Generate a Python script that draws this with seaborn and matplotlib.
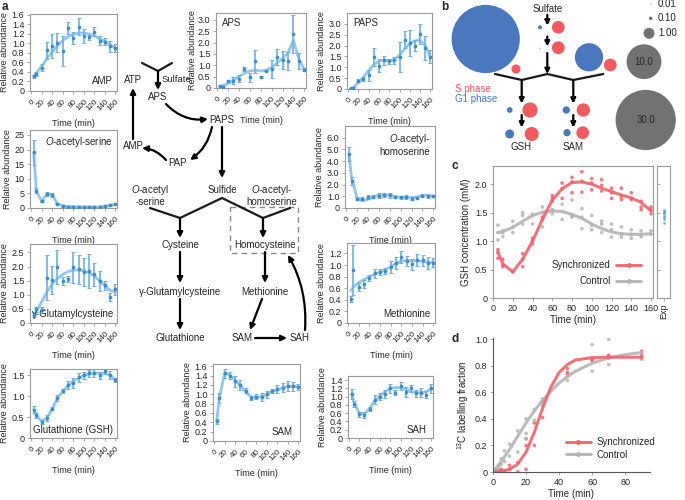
import numpy as np
import pandas as pd
import matplotlib
matplotlib.use("Agg")
import matplotlib.pyplot as plt
import seaborn as sns
from matplotlib.lines import Line2D
from matplotlib.patches import Rectangle

# ---------------- DATA ----------------
time_a = [5, 10, 20, 30, 40, 50, 60, 70, 80, 90, 100, 110, 120, 130, 140, 150, 160]

amp_mean = [0.31, 0.35, 0.49, 0.86, 0.94, 1.02, 0.84, 1.33, 1.11, 1.35, 1.16, 1.13, 1.25, 1.06, 1.04, 0.94, 0.90]
amp_err = [0.03, 0.04, 0.07, 0.18, 0.25, 0.20, 0.32, 0.13, 0.13, 0.18, 0.15, 0.05, 0.10, 0.10, 0.07, 0.12, 0.08]
amp_fit = [0.30, 0.38, 0.52, 0.68, 0.82, 0.95, 1.06, 1.14, 1.19, 1.22, 1.22, 1.20, 1.16, 1.10, 1.04, 0.97, 0.90]

aps_mean = [0.10, 0.05, 0.30, 0.32, 0.40, 0.84, 0.47, 1.18, 0.49, 0.76, 0.84, 1.35, 1.24, 1.20, 2.38, 1.20, 0.81]
aps_err = [0.05, 0.03, 0.05, 0.15, 0.15, 0.08, 0.20, 0.50, 0.05, 0.03, 0.40, 0.35, 0.40, 0.40, 0.85, 0.35, 0.05]
aps_fit = [0.05, 0.10, 0.20, 0.35, 0.50, 0.65, 0.75, 0.78, 0.75, 0.78, 0.90, 1.10, 1.30, 1.55, 2.10, 1.25, 0.80]

paps_mean = [0.03, 0.05, 0.38, 0.45, 0.64, 1.48, 1.08, 1.32, 1.28, 1.32, 1.47, 2.27, 2.13, 2.00, 2.54, 1.90, 1.48]
paps_err = [0.02, 0.03, 0.07, 0.10, 0.25, 0.42, 0.30, 0.20, 0.12, 0.15, 0.70, 0.40, 0.60, 0.25, 0.45, 0.55, 0.30]
paps_fit = [0.00, 0.05, 0.30, 0.55, 0.85, 1.12, 1.28, 1.32, 1.30, 1.35, 1.55, 1.85, 2.10, 2.22, 2.25, 2.00, 1.45]

oas_mean = [19.0, 5.9, 2.3, 4.8, 4.5, 1.5, 0.7, 0.5, 0.5, 0.4, 0.4, 0.4, 0.4, 0.4, 0.6, 0.9, 1.3]
oas_err = [4.2, 0.8, 0.4, 0.6, 0.8, 0.3, 0.2, 0.1, 0.1, 0.1, 0.1, 0.1, 0.1, 0.1, 0.1, 0.1, 0.2]
oas_fit = [19.0, 5.9, 2.3, 4.8, 4.5, 1.5, 0.7, 0.5, 0.5, 0.4, 0.4, 0.4, 0.4, 0.4, 0.6, 0.9, 1.3]

oah_mean = [4.6, 2.3, 0.80, 0.80, 0.93, 0.98, 1.05, 1.10, 1.07, 0.93, 0.90, 0.93, 0.80, 0.88, 1.05, 1.00, 1.00]
oah_err = [0.60, 0.35, 0.10, 0.15, 0.20, 0.10, 0.20, 0.15, 0.20, 0.10, 0.10, 0.15, 0.10, 0.10, 0.15, 0.12, 0.08]
oah_fit = [4.6, 2.6, 0.85, 0.60, 0.75, 0.95, 1.10, 1.12, 1.08, 0.98, 0.90, 0.90, 0.88, 0.95, 1.05, 1.10, 1.00]

ggc_mean = [0.30, 0.48, 0.45, 1.60, 1.52, 1.98, 1.48, 1.55, 1.98, 1.90, 1.80, 1.85, 1.72, 1.48, 1.33, 0.93, 1.20]
ggc_err = [0.10, 0.10, 0.10, 0.80, 0.50, 0.60, 0.15, 0.10, 0.55, 0.50, 0.50, 0.60, 0.40, 0.35, 0.15, 0.15, 0.20]
ggc_fit = [0.25, 0.40, 0.75, 1.10, 1.38, 1.58, 1.72, 1.82, 1.87, 1.88, 1.85, 1.78, 1.66, 1.50, 1.32, 1.15, 1.12]

met_mean = [0.41, 0.91, 0.62, 0.68, 0.77, 0.86, 0.88, 0.90, 0.97, 1.04, 1.14, 1.07, 1.01, 1.09, 1.08, 1.04, 1.04]
met_err = [0.05, 0.43, 0.07, 0.07, 0.05, 0.08, 0.06, 0.05, 0.10, 0.10, 0.10, 0.08, 0.10, 0.10, 0.10, 0.10, 0.08]
met_fit = [0.56, 0.62, 0.70, 0.75, 0.80, 0.84, 0.88, 0.92, 0.97, 1.03, 1.07, 1.08, 1.08, 1.07, 1.06, 1.05, 1.04]

gsh_mean = [0.68, 0.54, 0.38, 0.48, 0.70, 0.96, 1.12, 1.26, 1.32, 1.45, 1.50, 1.55, 1.55, 1.50, 1.60, 1.50, 1.38]
gsh_err = [0.08, 0.05, 0.04, 0.07, 0.04, 0.08, 0.05, 0.10, 0.12, 0.10, 0.08, 0.08, 0.10, 0.08, 0.08, 0.10, 0.05]
gsh_fit = [0.68, 0.55, 0.40, 0.48, 0.70, 0.95, 1.12, 1.25, 1.35, 1.43, 1.50, 1.53, 1.55, 1.55, 1.55, 1.50, 1.38]

sam_mean = [0.42, 0.92, 1.45, 1.40, 1.28, 1.20, 1.08, 0.92, 0.95, 0.94, 1.00, 1.07, 1.11, 1.14, 1.18, 1.17, 1.16]
sam_err = [0.05, 0.10, 0.10, 0.08, 0.12, 0.10, 0.06, 0.04, 0.05, 0.08, 0.08, 0.05, 0.08, 0.10, 0.10, 0.09, 0.06]
sam_fit = [0.42, 0.92, 1.45, 1.42, 1.30, 1.18, 1.05, 0.95, 0.93, 0.95, 1.00, 1.06, 1.10, 1.14, 1.17, 1.17, 1.16]

sah_mean = [1.07, 0.82, 0.57, 0.55, 0.70, 0.93, 1.00, 1.07, 1.20, 1.10, 1.25, 1.12, 1.20, 1.08, 1.10, 1.05, 1.20]
sah_err = [0.12, 0.08, 0.05, 0.07, 0.05, 0.10, 0.08, 0.10, 0.10, 0.05, 0.10, 0.12, 0.08, 0.08, 0.10, 0.08, 0.10]
sah_fit = [1.07, 0.85, 0.60, 0.58, 0.72, 0.90, 1.02, 1.12, 1.20, 1.22, 1.22, 1.18, 1.12, 1.10, 1.10, 1.12, 1.20]

# panel b
bubble_phase = ["G1", "S", "G1", "S", "G1", "S", "G1", "S", "G1", "S", "G1", "S", "G1", "S", "G1", "S"]
bubble_value = [38.5, 0.68, 0.13, 1.34, 0.01, 1.34, 6.6, 1.34, 0.27, 1.9, 0.67, 1.63, 0.44, 1.48, 0.44, 1.34]
size_legend_values = [0.01, 0.10, 1.00, 10.0, 30.0]
size_legend_labels = ["0.01", "0.10", "1.00", "10.0", "30.0"]

# panel c
c_time = [5, 10, 20, 30, 40, 50, 60, 70, 80, 90, 100, 110, 120, 130, 140, 150, 160]
c_sync_reps = [[0.85, 0.80, 0.70], [0.68, 0.57, 0.55], [0.47, 0.46], [0.78, 0.68, 0.55],
               [1.00, 0.95, 1.05], [1.42, 1.38], [1.80, 1.75, 1.70], [2.02, 1.92, 1.75],
               [2.12, 2.04, 1.85], [2.22, 2.05, 1.86], [2.10, 2.02, 1.90], [2.08, 1.98, 1.88],
               [1.93, 1.85, 1.75], [1.93, 1.78, 1.73], [1.85, 1.75, 1.73], [1.70, 1.60, 1.55],
               [1.60, 1.55, 1.48]]
c_ctrl_reps = [[1.28, 1.15, 1.02], [1.18, 1.15, 1.08], [1.35, 1.25, 1.15], [1.50, 1.45, 1.30],
               [1.47, 1.45, 1.30], [1.60, 1.50, 1.25], [1.55, 1.55, 1.48], [1.65, 1.52, 1.38],
               [1.72, 1.45, 1.42], [1.57, 1.42, 1.22], [1.45, 1.28, 1.20], [1.35, 1.30, 1.15],
               [1.30, 1.20, 1.07], [1.25, 1.12, 1.07], [1.20, 1.12, 1.05], [1.18, 1.10, 1.08],
               [1.18, 1.12]]
c_sync_fit = [0.80, 0.60, 0.46, 0.68, 1.00, 1.38, 1.72, 1.92, 2.03, 2.04, 2.00, 1.93, 1.87, 1.81, 1.76, 1.68, 1.53]
c_ctrl_fit = [1.15, 1.17, 1.24, 1.35, 1.45, 1.51, 1.53, 1.52, 1.47, 1.40, 1.30, 1.22, 1.16, 1.13, 1.12, 1.12, 1.13]
c_exp = [1.32, 1.38, 1.42, 1.45, 1.47, 1.49, 1.51, 1.53, 1.55]

# panel d
d_sync_t = [0, 0, 1, 2, 3, 4, 5, 5, 5, 7, 10, 10, 15, 15, 20, 20, 20, 25, 25, 30, 30, 45, 45, 45, 60, 60, 70, 70, 70, 90, 90, 90]
d_sync_v = [0, 0, 0, 0, 0.01, 0.01, 0.02, 0.01, 0, 0.01, 0.05, 0.02, 0.0, 0.07, 0.25, 0.20, 0.02, 0.37, 0.20,
            0.53, 0.41, 0.78, 0.75, 0.74, 0.85, 0.84, 0.88, 0.87, 0.86, 0.91, 0.88, 0.86]
d_ctrl_t = [2, 3, 4, 5, 5, 7, 7, 10, 10, 15, 15, 20, 20, 20, 25, 25, 30, 30, 45, 45, 60, 60, 70, 70, 90, 90]
d_ctrl_v = [0.02, 0.03, 0.05, 0.10, 0.06, 0.16, 0.08, 0.21, 0.12, 0.31, 0.15, 0.40, 0.29, 0.25, 0.47, 0.39,
            0.55, 0.50, 0.69, 0.72, 0.96, 0.76, 1.00, 0.81, 0.90, 0.85]
d_fit_t = [0, 5, 10, 15, 20, 25, 30, 35, 40, 45, 50, 60, 70, 80, 90]
d_sync_fit = [0, 0.005, 0.02, 0.06, 0.15, 0.30, 0.48, 0.64, 0.75, 0.81, 0.845, 0.862, 0.865, 0.865, 0.865]
d_ctrl_fit = [0, 0.08, 0.17, 0.27, 0.37, 0.46, 0.54, 0.61, 0.67, 0.72, 0.76, 0.82, 0.86, 0.885, 0.90]

# ---------------- STYLE ----------------
sns.set_theme(style="white")
plt.rcParams['font.family'] = ['Liberation Sans', 'DejaVu Sans']
plt.rcParams['mathtext.fontset'] = 'custom'
plt.rcParams['mathtext.rm'] = 'Liberation Sans'
plt.rcParams['mathtext.it'] = 'Liberation Sans:italic'
FS = 6.5
PT = "#3d8cc8"
ERR = "#6fb0e0"
FIT = "#88c0e8"
RED = "#f0646c"
GREY = "#b4b4b4"
BLUE_B = "#4a77bd"
RED_B = "#f15a5f"
SPINE = "#9a9a9a"

W, H = 685, 500
fig = plt.figure(figsize=(W / 100, H / 100), dpi=100)


def rect(l, t, r, b):
    return [l / W, 1 - b / H, (r - l) / W, (b - t) / H]


def style_axes(ax, full=True):
    for s in ax.spines.values():
        s.set_color(SPINE)
        s.set_linewidth(0.8)
    if not full:
        ax.spines['top'].set_visible(False)
        ax.spines['right'].set_visible(False)
        ax.spines['left'].set_color('#555555')
        ax.spines['bottom'].set_color('#555555')
    ax.tick_params(axis='both', which='both', direction='out', length=2.5, width=0.6,
                   color=SPINE, labelsize=FS, pad=1.5, bottom=True, left=True)


# overlay axes for diagrams (pixel coordinates)
ov = fig.add_axes([0, 0, 1, 1])
ov.set_xlim(0, W)
ov.set_ylim(H, 0)
ov.axis('off')


def arrow(ax, p0, p1, rad=0.0, lw=1.6, ms=8):
    ax.annotate("", xy=p1, xytext=p0,
                arrowprops=dict(arrowstyle="-|>", lw=lw, color='black', mutation_scale=ms,
                                shrinkA=0, shrinkB=0, connectionstyle=f"arc3,rad={rad}"))


def metab(box, mean, err, fit, ymax, yticks, ylabels, name, name_xy, ha, va, ylpad=2):
    ax = fig.add_axes(rect(*box))
    sns.lineplot(x=time_a, y=fit, ax=ax, color=FIT, lw=2.0, alpha=0.9)
    ax.errorbar(time_a, mean, yerr=err, fmt='none', ecolor=ERR, elinewidth=1.2,
                capsize=1.2, capthick=0.7)
    sns.scatterplot(x=time_a, y=mean, ax=ax, color=PT, s=7, linewidth=0, zorder=5)
    ax.set_xlim(-2, 163)
    ax.set_ylim(0, ymax)
    ax.set_xticks(range(0, 161, 20))
    ax.set_xticklabels([str(v) for v in range(0, 161, 20)], rotation=45, ha='right',
                       rotation_mode='anchor', fontsize=5.8)
    ax.set_yticks(yticks)
    ax.set_yticklabels(ylabels)
    ax.set_xlabel("Time (min)", fontsize=FS, labelpad=5)
    ax.set_ylabel("Relative abundance", fontsize=FS, labelpad=ylpad)
    style_axes(ax)
    ax.tick_params(axis='x', labelsize=5.8, pad=2.5)
    ax.text(name_xy[0], name_xy[1], name, transform=ax.transAxes, fontsize=FS + 0.5,
            ha=ha, va=va)
    return ax


def fmt(vals, nd):
    return ["0" if v == 0 else f"{v:.{nd}f}" for v in vals]


t16 = [0, 0.2, 0.4, 0.6, 0.8, 1.0, 1.2, 1.4, 1.6]
metab((30, 14, 117, 91), amp_mean, amp_err, amp_fit, 1.62, t16, fmt(t16, 1), "AMP", (0.95, 0.07), 'right', 'bottom')
t30 = [0, 0.5, 1.0, 1.5, 2.0, 2.5, 3.0]
metab((216, 13, 306, 88), aps_mean, aps_err, aps_fit, 3.3, t30, fmt(t30, 1), "APS", (0.07, 0.93), 'left', 'top',
      ylpad=0.5)
metab((347, 13, 432, 89), paps_mean, paps_err, paps_fit, 3.5, t30, fmt(t30, 1), "PAPS", (0.07, 0.93), 'left', 'top')
t25 = [0, 5, 10, 15, 20, 25]
metab((30, 130, 117, 208), oas_mean, oas_err, oas_fit, 26.7, t25, [str(v) for v in t25],
      r"$\it{O}$-acetyl-serine", (0.95, 0.93), 'right', 'top')
t6 = [0, 1, 2, 3, 4, 5, 6]
metab((345, 126, 435, 208), oah_mean, oah_err, oah_fit, 7.0, t6, fmt(t6, 1),
      r"$\it{O}$-acetyl-" + "\nhomoserine", (0.95, 0.93), 'right', 'top')
t25b = [0, 0.5, 1.0, 1.5, 2.0, 2.5]
metab((30, 244, 117, 323), ggc_mean, ggc_err, ggc_fit, 2.8, t25b, fmt(t25b, 1),
      "γ-Glutamylcysteine", (0.97, 0.05), 'right', 'bottom')
t12 = [0, 0.2, 0.4, 0.6, 0.8, 1.0, 1.2]
metab((347, 243, 435, 323), met_mean, met_err, met_fit, 1.38, t12, fmt(t12, 1),
      "Methionine", (0.95, 0.05), 'right', 'bottom')
t15 = [0, 0.5, 1.0, 1.5]
metab((30, 369, 117, 438), gsh_mean, gsh_err, gsh_fit, 1.65, t15, fmt(t15, 1),
      "Glutathione (GSH)", (0.95, 0.05), 'right', 'bottom')
metab((213, 364, 300, 441), sam_mean, sam_err, sam_fit, 1.65, t16, fmt(t16, 1),
      "SAM", (0.92, 0.05), 'right', 'bottom')
t14 = [0, 0.2, 0.4, 0.6, 0.8, 1.0, 1.2, 1.4]
metab((348, 376, 433, 438), sah_mean, sah_err, sah_fit, 1.5, t14, fmt(t14, 1),
      "SAH", (0.92, 0.05), 'right', 'bottom')

# ---- pathway diagram of panel a (layout in pixel coordinates) ----
tk = dict(fontsize=FS + 0.5, ha='center', va='center')
ov.text(133, 80, "ATP", **tk)
ov.text(176, 80, "Sulfate", fontsize=FS + 0.3, ha='center', va='center')
ov.plot([142, 158, 172], [63, 71, 63], color='k', lw=1.6)
arrow(ov, (158, 71), (158, 90))
ov.text(158, 97, "APS", **tk)
arrow(ov, (166, 104), (208, 119), rad=0.25)
ov.text(222, 120, "PAPS", **tk)
arrow(ov, (222, 127), (222, 178))
arrow(ov, (212, 127), (190, 160), rad=-0.2)
ov.text(178, 163, "PAP", **tk)
arrow(ov, (166, 160), (142, 148), rad=0.2)
ov.text(133, 146, "AMP", **tk)
arrow(ov, (133, 139), (133, 88))
ov.text(150, 195, r"$\it{O}$-acetyl" + "\n-serine", fontsize=FS + 0.5, ha='center', va='center', linespacing=1.1)
ov.text(222, 190, "Sulfide", **tk)
ov.text(272, 195, r"$\it{O}$-acetyl-" + "\nhomoserine", fontsize=FS + 0.5, ha='center', va='center', linespacing=1.1)
ov.plot([150, 180, 222, 263, 290], [208, 218, 198, 218, 208], color='k', lw=1.6)
arrow(ov, (180, 218), (180, 238))
arrow(ov, (263, 218), (263, 238))
ov.add_patch(Rectangle((230, 207), 68, 46, fill=False, ls=(0, (4, 3)), ec='#888888', lw=1.0))
ov.text(180, 245, "Cysteine", **tk)
arrow(ov, (180, 252), (180, 283))
ov.text(180, 292, "γ-Glutamylcysteine", **tk)
arrow(ov, (180, 299), (180, 330))
ov.text(180, 338, "Glutathione", **tk)
ov.text(265, 245, "Homocysteine", **tk)
arrow(ov, (265, 252), (265, 283))
ov.text(265, 292, "Methionine", **tk)
arrow(ov, (262, 299), (250, 330))
ov.text(242, 338, "SAM", **tk)
arrow(ov, (255, 338), (287, 338))
ov.text(300, 338, "SAH", **tk)
arrow(ov, (305, 330), (288, 255), rad=0.15)

# ---------------- panel b ----------------
axb = fig.add_axes(rect(440, 0, 685, 160))
axb.set_xlim(440, 685)
axb.set_ylim(160, 0)
axb.axis('off')
bubble_xy = [(485.7, 39), (516, 69), (540, 27.3), (558.3, 27.3), (540.3, 48.3), (558.3, 47.7),
             (589, 57.3), (610.3, 65), (509.7, 110), (530, 110), (509.7, 134), (531.7, 134),
             (566.3, 110), (583.3, 110), (567, 132.7), (582.7, 132.7)]
dfb = pd.DataFrame({"x": [p[0] for p in bubble_xy], "y": [p[1] for p in bubble_xy],
                    "phase": bubble_phase, "value": bubble_value})
SMAX = 40.0
sns.scatterplot(data=dfb, x="x", y="y", hue="phase", size="value",
                palette={"G1": BLUE_B, "S": RED_B}, sizes=(0, 62.7 * SMAX), size_norm=(0, SMAX),
                linewidth=0, legend=False, ax=axb, zorder=3)
leg_xy = [(650.7, 4.2), (650.7, 18.3), (649, 33.3), (644, 61.7), (645.7, 120)]
dfl = pd.DataFrame({"x": [p[0] for p in leg_xy], "y": [p[1] for p in leg_xy],
                    "value": size_legend_values})
sns.scatterplot(data=dfl, x="x", y="y", size="value", sizes=(0, 62.7 * SMAX), size_norm=(0, SMAX),
                color="#727272", linewidth=0, legend=False, ax=axb, zorder=3)
for (x, y), lab, v in zip(leg_xy, size_legend_labels, size_legend_values):
    if v < 5:
        axb.text(658, y, lab, fontsize=FS + 0.5, ha='left', va='center')
    else:
        axb.text(x, y, lab, fontsize=FS + 0.5, ha='center', va='center')
axb.set_xlabel("")
axb.set_ylabel("")
axb.text(547.3, 9.3, "Sulfate", fontsize=FS + 0.5, ha='center', va='center')
arrow(axb, (547.3, 15), (547.3, 25.5), ms=7)
arrow(axb, (547.3, 36.5), (547.3, 46.5), ms=7)
arrow(axb, (547.3, 53), (547.3, 74), ms=7)
axb.plot([495, 521.7, 547.3, 573.3, 603.3], [74, 80, 74, 80, 74], color='k', lw=1.6)
arrow(axb, (521.7, 80), (521.7, 103.5), ms=7)
arrow(axb, (521.7, 115), (521.7, 127.5), ms=7)
arrow(axb, (573.3, 80), (573.3, 103.5), ms=7)
arrow(axb, (573.3, 115), (573.3, 127.5), ms=7)
axb.text(521, 147, "GSH", fontsize=FS + 0.5, ha='center', va='center')
axb.text(573.3, 147, "SAM", fontsize=FS + 0.5, ha='center', va='center')
axb.text(455, 89.3, "S phase", fontsize=FS + 0.5, ha='left', va='center', color=RED_B)
axb.text(455, 99.3, "G1 phase", fontsize=FS + 0.5, ha='left', va='center', color=BLUE_B)

# ---------------- panel c ----------------
rows = []
for t, reps in zip(c_time, c_sync_reps):
    for v in reps:
        rows.append(("Synchronized", t, v))
for t, reps in zip(c_time, c_ctrl_reps):
    for v in reps:
        rows.append(("Control", t, v))
dfc = pd.DataFrame(rows, columns=["cond", "t", "v"])
axc = fig.add_axes(rect(493, 166, 653, 298))
sns.scatterplot(data=dfc, x="t", y="v", hue="cond", palette={"Synchronized": RED, "Control": GREY},
                s=7, linewidth=0, legend=False, ax=axc, alpha=0.85)
sns.lineplot(x=c_time, y=c_ctrl_fit, color=GREY, lw=2.2, ax=axc, alpha=0.9)
sns.lineplot(x=c_time, y=c_sync_fit, color=RED, lw=2.2, ax=axc, alpha=0.9)
axc.set_xlim(0, 162)
axc.set_ylim(0, 2.32)
axc.set_xticks(range(0, 161, 20))
axc.set_yticks([0, 0.5, 1.0, 1.5, 2.0])
axc.set_yticklabels(["0", "0.5", "1.0", "1.5", "2.0"])
axc.set_xlabel("Time (min)", fontsize=FS + 0.5, labelpad=2)
axc.set_ylabel("GSH concentration (mM)", fontsize=FS + 0.5, labelpad=3)
style_axes(axc)
hs = Line2D([], [], color=RED, lw=2, marker='o', ms=2.5)
hc = Line2D([], [], color=GREY, lw=2, marker='o', ms=2.5)
axc.legend([hs, hc], ["Synchronized", "Control"], loc='lower right', bbox_to_anchor=(0.97, 0.04),
           frameon=False, markerfirst=False, fontsize=FS + 0.5, handlelength=2.6, handletextpad=0.6,
           labelspacing=0.6, borderpad=0.2)

axe = fig.add_axes(rect(657, 166, 670, 298))
sns.stripplot(x=[0] * len(c_exp), y=c_exp, color="#5aa9e6", size=1.8, jitter=False, ax=axe)
axe.set_ylim(0, 2.32)
axe.set_xlim(-1, 1)
axe.set_xticks([0])
axe.set_xticklabels(["Exp"], rotation=90)
axe.set_yticks([0.5, 1.0, 1.5, 2.0])
axe.set_yticklabels([])
style_axes(axe)
axe.tick_params(axis='y', direction='in', length=2)

# ---------------- panel d ----------------
axd = fig.add_axes(rect(493, 338, 650, 472))
dfd = pd.DataFrame({"t": d_sync_t + d_ctrl_t, "v": d_sync_v + d_ctrl_v,
                    "cond": ["Synchronized"] * len(d_sync_t) + ["Control"] * len(d_ctrl_t)})
sns.scatterplot(data=dfd, x="t", y="v", hue="cond", palette={"Synchronized": RED, "Control": GREY},
                s=7, linewidth=0, legend=False, ax=axd, alpha=0.85)
sns.lineplot(x=d_fit_t, y=d_ctrl_fit, color=GREY, lw=2.2, ax=axd, alpha=0.9)
sns.lineplot(x=d_fit_t, y=d_sync_fit, color=RED, lw=2.2, ax=axd, alpha=0.9)
axd.set_xlim(0, 95)
axd.set_ylim(0, 1.01)
axd.set_xticks([0, 20, 40, 60, 80])
axd.set_yticks([0, 0.2, 0.4, 0.6, 0.8, 1.0])
axd.set_yticklabels(["0", "0.2", "0.4", "0.6", "0.8", "1.0"])
axd.set_xlabel("Time (min)", fontsize=FS + 0.5, labelpad=2)
axd.set_ylabel("$^{13}$C labelling fraction", fontsize=FS + 0.5, labelpad=3)
style_axes(axd, full=False)
axd.legend([hs, hc], ["Synchronized", "Control"], loc='lower left', bbox_to_anchor=(0.42, 0.04),
           frameon=False, fontsize=FS + 0.5, handlelength=2.6, handletextpad=0.6,
           labelspacing=0.3, borderpad=0.2)

# panel letters
for lab, x, y in [("a", 2, 7), ("b", 441, 7), ("c", 452, 166), ("d", 452, 339)]:
    ov.text(x, y, lab, fontsize=8.5, fontweight='bold', ha='left', va='center')

fig.savefig("out.png", dpi=100)
